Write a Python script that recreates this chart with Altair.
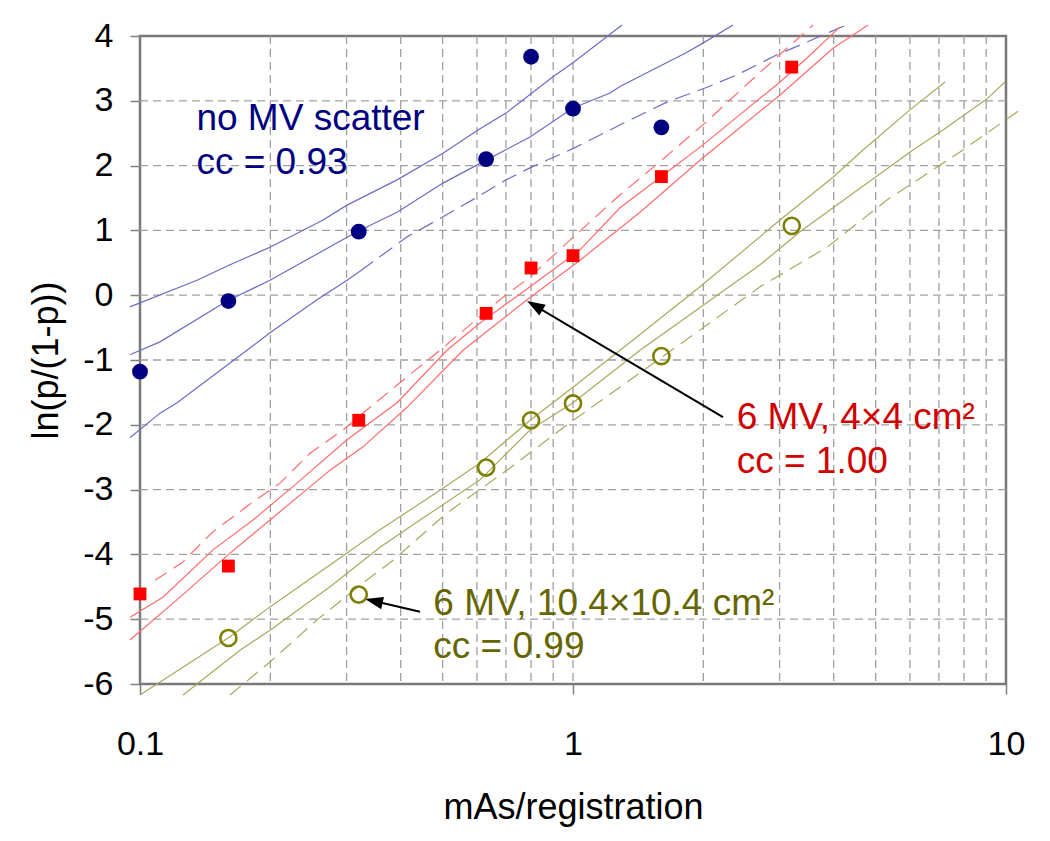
import altair as alt
import pandas as pd

FONT = "Liberation Sans"

# ---------------- axis values ----------------
x_major = [0.1, 1, 10]
x_grid = [0.2, 0.3, 0.4, 0.5, 0.6, 0.7, 0.8, 0.9, 1, 2, 3, 4, 5, 6, 7, 8, 9]
y_ticks = [-6, -5, -4, -3, -2, -1, 0, 1, 2, 3, 4]
y_grid = [-5, -4, -3, -2, -1, 0, 1, 2, 3]

# ---------------- measured points ----------------
mas = [0.1, 0.16, 0.32, 0.63, 0.8, 1.0, 1.6, 3.2]
blue_y = [-1.18, -0.09, 0.98, 2.10, 3.68, 2.88, 2.59]
red_y = [-4.61, -4.18, -1.93, -0.28, 0.42, 0.61, 1.83, 3.52]
olive_x = [0.16, 0.32, 0.63, 0.8, 1.0, 1.6, 3.2]
olive_y = [-5.29, -4.62, -2.66, -1.93, -1.67, -0.94, 1.07]

# ---------------- fitted / band curves ----------------
blue_upper_x = [0.0948, 0.1354, 0.1614, 0.1996, 0.2647, 0.3007, 0.3923, 0.5009, 0.6034, 0.7002, 0.8041, 0.8991, 1.005, 1.298]
blue_upper_y = [-0.18, 0.23, 0.47, 0.74, 1.16, 1.39, 1.78, 2.19, 2.55, 2.81, 3.12, 3.37, 3.60, 4.17]
blue_mid_x = [0.0948, 0.1112, 0.1588, 0.1996, 0.3170, 0.3923, 0.5009, 0.6365, 0.7958, 1.0, 1.218, 1.284, 1.834, 1.996, 2.342]
blue_mid_y = [-0.92, -0.72, -0.09, 0.23, 0.98, 1.28, 1.73, 2.10, 2.44, 2.89, 3.12, 3.22, 3.75, 3.89, 4.17]
blue_low_solid_x = [0.0948, 0.1112, 0.1218, 0.1766, 0.1996, 0.2564, 0.3007, 0.3221]
blue_low_solid_y = [-2.20, -1.82, -1.66, -0.85, -0.58, -0.07, 0.23, 0.37]
blue_low_dash_x = [0.3221, 0.4137, 0.5009, 0.6034, 0.7002, 0.8041, 1.005, 1.218, 1.312, 1.648, 2.040, 2.392, 2.959, 3.344, 4.272]
blue_low_dash_y = [0.37, 0.90, 1.21, 1.52, 1.78, 1.98, 2.27, 2.55, 2.66, 2.98, 3.21, 3.40, 3.71, 3.86, 4.17]

red_dash_x = [0.1083, 0.1250, 0.1474, 0.1824, 0.2105, 0.2470, 0.2943, 0.3398, 0.3986, 0.4930, 0.6891, 0.7958, 0.9843, 1.284, 1.588, 1.996, 2.704, 3.584]
red_dash_y = [-4.40, -4.13, -3.65, -3.19, -2.90, -2.44, -2.08, -1.73, -1.35, -0.85, -0.03, 0.28, 0.85, 1.55, 2.06, 2.63, 3.44, 4.17]
red_mid_x = [0.0948, 0.1130, 0.1474, 0.1824, 0.2304, 0.3007, 0.3923, 0.5117, 0.6098, 0.7958, 1.038, 1.284, 1.614, 1.996, 3.007, 3.471, 4.137]
red_mid_y = [-4.97, -4.66, -3.93, -3.47, -2.90, -2.23, -1.66, -0.85, -0.43, 0.13, 0.70, 1.35, 1.85, 2.32, 3.29, 3.66, 4.14]
red_low_x = [0.0948, 0.1237, 0.1614, 0.1996, 0.2747, 0.3273, 0.4137, 0.5572, 0.7831, 1.038, 1.428, 1.996, 3.007, 3.986, 4.800]
red_low_y = [-5.32, -4.66, -3.98, -3.47, -2.70, -2.34, -1.73, -0.85, -0.07, 0.54, 1.28, 2.12, 3.09, 3.81, 4.17]

olive_upper_x = [0.1, 0.1614, 0.1996, 0.3007, 0.3583, 0.4930, 0.6098, 0.7958, 1.0, 1.376, 1.965, 3.007, 3.986, 4.674, 6.002, 7.230]
olive_upper_y = [-6.17, -5.27, -4.81, -3.98, -3.62, -3.01, -2.59, -1.93, -1.42, -0.69, 0.13, 1.16, 1.82, 2.24, 2.86, 3.29]
olive_mid_x = [0.1257, 0.1702, 0.1996, 0.2747, 0.3583, 0.4433, 0.6098, 0.7958, 1.0, 1.428, 2.704, 3.344, 3.986, 6.099, 7.153, 9.04, 9.95]
olive_mid_y = [-6.17, -5.48, -5.17, -4.50, -3.89, -3.47, -2.85, -2.08, -1.66, -0.85, 0.47, 0.98, 1.35, 2.24, 2.55, 3.03, 3.29]
olive_dash_x = [0.1614, 0.1996, 0.2564, 0.3273, 0.3779, 0.5117, 0.7040, 0.9685, 1.428, 2.704, 3.861, 5.311, 7.83, 10.77]
olive_dash_y = [-6.17, -5.66, -5.01, -4.44, -4.13, -3.36, -2.70, -2.00, -1.20, 0.13, 0.74, 1.47, 2.21, 2.86]

# ---------------- annotations ----------------
label_text = ["no MV scatter", "cc = 0.93", "6 MV, 4×4 cm²", "cc = 1.00", "6 MV, 10.4×10.4 cm²", "cc = 0.99"]
label_x = [0.135, 0.135, 2.388, 2.388, 0.4757, 0.4757]
label_y = [2.55, 1.87, -2.065, -2.75, -4.935, -5.60]
label_color = ["#000080", "#000080", "#d00000", "#d00000", "#666600", "#666600"]

arrow_x = [2.22, 0.4433]
arrow_y = [-1.88, -4.884]
arrow_x2 = [0.816, 0.3467]
arrow_y2 = [-0.16, -4.72]
arrow_angle = [300.6, 282.7]

# ---------------- encodings ----------------
X = alt.X(
    "x:Q",
    scale=alt.Scale(type="log", domain=[0.1, 10], nice=False),
    axis=alt.Axis(
        values=x_major, format="~g", title="mAs/registration", grid=False, domain=False,
        tickSize=10, tickColor="#808080", tickWidth=1.5, labelPadding=33, titlePadding=29,
        labelFontSize=34, titleFontSize=36, labelFont=FONT, titleFont=FONT,
        titleFontWeight="normal", labelColor="black", titleColor="black", labelFlush=False,
    ),
)
Y = alt.Y(
    "y:Q",
    scale=alt.Scale(domain=[-6, 4], nice=False),
    axis=alt.Axis(
        values=y_ticks, labelExpr="'' + datum.value", title="ln(p/(1-p))", grid=False, domain=False,
        tickSize=10, tickColor="#808080", tickWidth=1.5, labelPadding=17, titlePadding=17,
        labelFontSize=34, titleFontSize=36, labelFont=FONT, titleFont=FONT,
        titleFontWeight="normal", labelColor="black", titleColor="black",
    ),
)

# ---------------- grid ----------------
vgrid = alt.Chart(pd.DataFrame({"x": x_grid})).mark_rule(
    color="#a0a0a0", strokeDash=[8, 5], strokeWidth=1.3
).encode(x=X)
hgrid = alt.Chart(pd.DataFrame({"y": y_grid})).mark_rule(
    color="#a0a0a0", strokeDash=[8, 5], strokeWidth=1.3
).encode(y=Y)


def lines_df(pairs):
    rows = []
    for name, xs, ys in pairs:
        for i, (a, b) in enumerate(zip(xs, ys)):
            rows.append({"line": name, "i": i, "x": a, "y": b})
    return pd.DataFrame(rows)


def line_layer(pairs, color, dash=None):
    kw = dict(color=color, strokeWidth=1.2, clip=False)
    if dash:
        kw["strokeDash"] = dash
    return alt.Chart(lines_df(pairs)).mark_line(**kw).encode(
        x=X, y=Y, detail="line:N", order="i:Q"
    )


blue_solid = line_layer(
    [("bu", blue_upper_x, blue_upper_y), ("bm", blue_mid_x, blue_mid_y), ("bls", blue_low_solid_x, blue_low_solid_y)],
    "#6c6cc4",
)
blue_dash = line_layer([("bld", blue_low_dash_x, blue_low_dash_y)], "#6c6cc4", [16, 8])
red_solid = line_layer([("rm", red_mid_x, red_mid_y), ("rl", red_low_x, red_low_y)], "#ff6c6c")
red_dash = line_layer([("rd", red_dash_x, red_dash_y)], "#ff6c6c", [14, 8])
olive_solid = line_layer([("ou", olive_upper_x, olive_upper_y), ("om", olive_mid_x, olive_mid_y)], "#a9a95e")
olive_dash = line_layer([("od", olive_dash_x, olive_dash_y)], "#a9a95e", [14, 8])

# ---------------- markers ----------------
blue_pts = alt.Chart(pd.DataFrame({"x": mas[: len(blue_y)], "y": blue_y})).mark_point(
    shape="circle", filled=True, size=250, color="#000080", opacity=1
).encode(x=X, y=Y)
red_pts = alt.Chart(pd.DataFrame({"x": mas, "y": red_y})).mark_point(
    shape="square", filled=True, size=165, color="#ff0000", opacity=1
).encode(x=X, y=Y)
olive_pts = alt.Chart(pd.DataFrame({"x": olive_x, "y": olive_y})).mark_point(
    shape="circle", filled=False, size=260, strokeWidth=2.6, color="#7f7f00", opacity=1
).encode(x=X, y=Y)

# ---------------- arrows ----------------
arrow_df = pd.DataFrame({"x": arrow_x, "y": arrow_y, "x2": arrow_x2, "y2": arrow_y2})
arrow_lines = alt.Chart(arrow_df).mark_rule(color="black", strokeWidth=2).encode(
    x=X, y=Y, x2="x2:Q", y2="y2:Q"
)
head_df = pd.DataFrame({"x": arrow_x2, "y": arrow_y2, "angle": arrow_angle})
arrow_heads = alt.Chart(head_df).mark_point(
    shape="M0,-1L0.7,1L-0.7,1Z", filled=True, color="black", size=324, opacity=1
).encode(x=X, y=Y, angle=alt.Angle("angle:Q", scale=None))

# ---------------- labels ----------------
text_df = pd.DataFrame({"x": label_x, "y": label_y, "t": label_text, "c": label_color})
texts = alt.Chart(text_df).mark_text(
    align="left", baseline="alphabetic", font=FONT, fontSize=37
).encode(x=X, y=Y, text="t:N", color=alt.Color("c:N", scale=None))

chart = alt.layer(
    hgrid, vgrid,
    blue_solid, blue_dash, red_solid, red_dash, olive_solid, olive_dash,
    arrow_lines, arrow_heads,
    blue_pts, red_pts, olive_pts,
    texts,
).properties(
    width=866,
    height=648,
    padding={"left": 132, "top": 28, "right": 36, "bottom": 149},
    autosize=alt.AutoSizeParams(type="none"),
    background="white",
).configure_view(stroke="#7a7a7a", strokeWidth=2.5)

chart.save("out.html", embed_options={"renderer": "svg", "actions": False})
